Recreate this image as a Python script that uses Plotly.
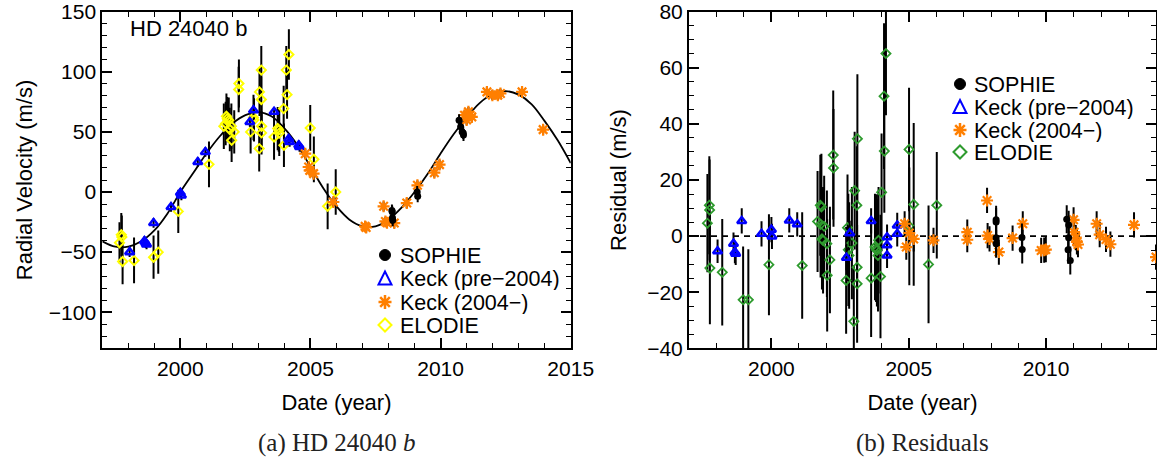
import plotly.graph_objects as go

# ---------------- data ----------------
# Keplerian fit curve (left panel)
fit_year = [1997.0, 1997.5, 1998.0, 1998.5, 1999.0, 1999.5, 2000.0, 2000.5, 2001.0, 2001.5,
            2002.0, 2002.5, 2003.0, 2003.5, 2004.0, 2004.5, 2005.0, 2005.5, 2006.0, 2006.5,
            2007.0, 2007.5, 2008.0, 2008.5, 2009.0, 2009.5, 2010.0, 2010.5, 2011.0, 2011.5,
            2012.0, 2012.5, 2013.0, 2013.5, 2014.0, 2014.5, 2015.0]
fit_rv = [-41, -45.5, -45.5, -41, -32, -18, 0, 16, 32, 46,
          57, 64, 66.5, 63, 53, 39, 21, 3, -12, -23,
          -28.5, -28.5, -23, -13, 0, 15, 32, 48, 62, 74,
          81.5, 84, 81, 73, 59, 43, 24]

# SOPHIE
sophie_year = [2008.13, 2008.14, 2008.15, 2008.16, 2009.10, 2009.12, 2010.71, 2010.77, 2010.83, 2010.87, 2010.88]
sophie_rv = [-15.3, -16.5, -21.5, -23.5, 0.0, -3.6, 59.7, 54.2, 50.0, 49.2, 47.5]
sophie_rv_err = [5, 5, 5, 5, 5, 5, 5, 5, 5, 5, 5]
sophie_res_year = [2008.18, 2008.18, 2008.18, 2008.18, 2009.12, 2009.13, 2010.75, 2010.82, 2010.82, 2010.80, 2010.88]
sophie_res = [5.8, 5.0, -0.6, -2.7, -0.5, -4.8, 6.0, 4.0, -0.6, -4.9, -8.7]
sophie_res_err = [5, 5, 5, 5, 5, 5, 5, 5, 5, 5, 5]

# Keck (pre-2004)
keck1_year = [1998.05, 1998.62, 1998.67, 1998.70, 1998.97, 1999.64, 2000.00, 2000.04, 2000.67, 2000.96,
              2002.67, 2002.81, 2003.60, 2004.16, 2004.20, 2004.55, 2004.58]
keck1_rv = [-50, -40.8, -42.5, -43.6, -25.8, -12.5, -0.6, -2.8, 25, 33.3,
            58.3, 68, 66.7, 44, 41.7, 38.9, 37.5]
keck1_rv_err = [4, 4, 4, 4, 4, 4, 4, 4, 4, 4, 4, 4, 4, 4, 4, 4, 4]
keck1_res_year = [1998.04, 1998.62, 1998.67, 1998.70, 1998.92, 1999.64, 2000.00, 2000.02, 2000.65, 2000.94,
                  2002.73, 2002.85, 2003.63, 2004.21, 2004.21, 2004.21, 2004.58, 2004.58]
keck1_res = [-5.4, -2.7, -5.7, -6.3, 5.4, 0.8, 2.3, -0.1, 5.6, 4.2,
             -7.7, 1.0, 5.4, -0.4, -3.3, -6.9, 3.8, 0.8]
keck1_res_err = [4.2, 4, 4, 4, 4.5, 4.5, 4.5, 4.5, 4.3, 4.3, 4.5, 4.5, 4.5, 4.5, 4.5, 4.5, 4.5, 4.5]

# Keck (2004-)
keck2_year = [2004.80, 2004.93, 2004.97, 2005.12, 2005.88, 2007.10, 2007.14, 2007.81, 2007.88, 2007.94,
              2008.22, 2008.70, 2009.11, 2009.76, 2009.96, 2010.92, 2011.00, 2011.07, 2011.12, 2011.20,
              2011.78, 2011.99, 2012.20, 2012.30, 2013.13, 2013.94]
keck2_rv = [31.9, 20.8, 18.0, 15.3, -8.3, -28.6, -29.5, -11.9, -24.5, -25.5,
            -25.8, -9.2, 5.6, 16.1, 22.8, 63.9, 60.0, 66.7, 64.0, 62.5,
            83.3, 80.6, 80.6, 82.0, 83.3, 51.9]
keck2_rv_err = [4] * 26
keck2_res_year = [2004.85, 2004.91, 2005.02, 2005.18, 2005.90, 2007.13, 2007.13, 2007.85, 2007.87, 2007.94,
                  2008.28, 2008.78, 2009.15, 2009.82, 2009.93, 2009.99, 2011.00, 2011.02, 2011.08, 2011.12,
                  2011.16, 2011.84, 2011.95, 2012.18, 2012.34, 2013.20, 2014.00]
keck2_res = [4.4, -3.9, 1.1, -1.0, -1.5, 1.4, -1.3, 12.7, 0.2, -1.0,
             -5.7, -0.7, 4.4, -5.1, -5.0, -4.8, 5.8, 1.4, -0.5, -2.1,
             -3.0, 4.4, 0.5, -1.2, -2.9, 4.0, -7.5]
keck2_res_err = [4.5] * 27

# ELODIE
elodie_year = [1997.66, 1997.73, 1997.75, 1997.78, 1998.22, 1998.97, 1999.15, 1999.92, 2001.10, 2001.67,
               2001.74, 2001.77, 2001.80, 2001.86, 2001.90, 2001.96, 2001.97, 2002.07, 2002.24, 2002.25,
               2002.70, 2002.81, 2002.83, 2003.03, 2003.04, 2003.11, 2003.11, 2003.12, 2003.12, 2003.60,
               2003.74, 2003.78, 2003.80, 2003.97, 2003.98, 2004.07, 2004.10, 2004.17, 2004.99, 2005.13,
               2005.66, 2005.97]
elodie_rv = [-42.2, -35.5, -37.5, -57.8, -56.9, -54.2, -50.0, -16.1, 23.0, 54.7,
             57.0, 63.0, 61.0, 59.7, 52.0, 54.7, 43.0, 50.0, 85.3, 90.3,
             50.0, 62.0, 60.0, 36.1, 83.3, 101.4, 77.0, 54.7, 49.2, 45.8,
             52.8, 51.5, 49.0, 69.4, 38.9, 101.4, 81.0, 114.4, 53.3, 27.2,
             -11.9, 0.0]
elodie_rv_err = [17, 18, 18, 19, 19, 18, 18, 18, 19, 19,
                 18, 19, 18, 19, 18, 19, 18, 18, 19, 20,
                 18, 19, 18, 19, 20, 20, 19, 19, 18, 19,
                 18, 18, 19, 19, 18, 20, 20, 21, 19, 19,
                 19, 19]
elodie_res_year = [1997.67, 1997.74, 1997.75, 1997.76, 1998.21, 1998.97, 1999.16, 1999.91, 2001.12, 2001.68,
                   2001.78, 2001.79, 2001.82, 2001.84, 2001.88, 2001.92, 2002.02, 2002.03, 2002.13, 2002.25,
                   2002.26, 2002.72, 2002.77, 2002.80, 2002.83, 2002.93, 2003.00, 2003.03, 2003.11, 2003.12,
                   2003.12, 2003.13, 2003.63, 2003.77, 2003.81, 2003.84, 2003.88, 2003.90, 2003.97, 2004.01,
                   2004.10, 2004.11, 2004.17, 2005.01, 2005.02, 2005.18, 2005.72, 2006.02]
elodie_res = [4.6, 11.0, 9.3, -11.4, -12.9, -22.7, -22.7, -10.2, -10.5, 5.2,
              11.0, 4.2, 10.4, -1.0, -1.5, 3.5, -2.7, -14.0, -8.5, 28.9,
              24.3, -15.8, 3.0, -4.9, -6.9, -2.5, -30.4, 16.2, 11.0, -11.1,
              -17.0, 34.7, -15.0, -3.9, -4.5, -5.1, -6.9, -1.5, -14.4, 15.6,
              49.9, 30.3, 65.1, 30.9, 3.5, 11.3, -10.1, 11.0]
elodie_res_err = [17.5, 17.5, 18, 20, 19, 19, 18, 18, 19, 18,
                  18, 19, 19, 18, 19, 18, 19, 20, 19, 23,
                  21, 19, 19, 20, 19, 20, 20, 21, 21, 20,
                  21, 23, 21, 19, 19, 20, 20, 19, 22, 21,
                  26, 22, 22, 22, 21, 29, 21, 19]

# legend labels
series_names = ["SOPHIE", "Keck (pre\u22122004)", "Keck (2004\u2212)", "ELODIE"]

# ---------------- styling ----------------
W, H = 1157, 459
SANS = "Liberation Sans, Arial, Helvetica, sans-serif"
SERIF = "Liberation Serif, Times New Roman, serif"
BLUE = "#0000FF"
ORANGE = "#FF7F00"
YELLOW = "#FFFF00"
GREEN = "#2E9B2E"

def px(x):
    return x / W

def py(y):
    return 1 - y / H

fig = go.Figure()

def err(arr):
    return dict(type="data", array=arr, color="black", thickness=2, width=0)

M_DIAM = dict(symbol="diamond-open", size=7)
M_TRI = dict(symbol="triangle-up-open", size=8)
M_AST = dict(symbol="asterisk-open", size=10)
M_CIR = dict(symbol="circle", size=7, color="black")

# ---- left panel ----
fig.add_trace(go.Scatter(x=fit_year, y=fit_rv, mode="lines", line=dict(color="black", width=1.8, shape="spline"),
                         xaxis="x", yaxis="y", showlegend=False, hoverinfo="skip"))
fig.add_trace(go.Scatter(x=elodie_year, y=elodie_rv, mode="markers", error_y=err(elodie_rv_err),
                         marker=dict(**M_DIAM, color=YELLOW, line=dict(width=2, color=YELLOW)),
                         xaxis="x", yaxis="y", showlegend=False, name="ELODIE"))
fig.add_trace(go.Scatter(x=keck1_year, y=keck1_rv, mode="markers", error_y=err(keck1_rv_err),
                         marker=dict(**M_TRI, color=BLUE, line=dict(width=2.5, color=BLUE)),
                         xaxis="x", yaxis="y", showlegend=False, name="Keck (pre-2004)"))
fig.add_trace(go.Scatter(x=keck2_year, y=keck2_rv, mode="markers", error_y=err(keck2_rv_err),
                         marker=dict(**M_AST, color=ORANGE, line=dict(width=2.2, color=ORANGE)),
                         xaxis="x", yaxis="y", showlegend=False, name="Keck (2004-)"))
fig.add_trace(go.Scatter(x=sophie_year, y=sophie_rv, mode="markers", error_y=err(sophie_rv_err),
                         marker=M_CIR, xaxis="x", yaxis="y", showlegend=False, name="SOPHIE"))

# ---- right panel ----
fig.add_trace(go.Scatter(x=elodie_res_year, y=elodie_res, mode="markers", error_y=err(elodie_res_err),
                         marker=dict(**M_DIAM, color=GREEN, line=dict(width=1.8, color=GREEN)),
                         xaxis="x2", yaxis="y2", showlegend=False, name="ELODIE"))
fig.add_trace(go.Scatter(x=keck1_res_year, y=keck1_res, mode="markers", error_y=err(keck1_res_err),
                         marker=dict(**M_TRI, color=BLUE, line=dict(width=2.5, color=BLUE)),
                         xaxis="x2", yaxis="y2", showlegend=False, name="Keck (pre-2004)"))
fig.add_trace(go.Scatter(x=keck2_res_year, y=keck2_res, mode="markers", error_y=err(keck2_res_err),
                         marker=dict(**M_AST, color=ORANGE, line=dict(width=2.2, color=ORANGE)),
                         xaxis="x2", yaxis="y2", showlegend=False, name="Keck (2004-)"))
fig.add_trace(go.Scatter(x=sophie_res_year, y=sophie_res, mode="markers", error_y=err(sophie_res_err),
                         marker=M_CIR, xaxis="x2", yaxis="y2", showlegend=False, name="SOPHIE"))

# ---------------- axes ----------------
def axis(domain, rng, dtick, mdtick, title, standoff, anchor, tick0=0):
    return dict(domain=domain, range=rng, anchor=anchor, automargin=False,
                showline=True, linewidth=2, linecolor="black",
                mirror="allticks", ticks="inside", ticklen=10, tickwidth=1.6, tickcolor="black",
                tickmode="linear", tick0=tick0, dtick=dtick, showgrid=False, zeroline=False,
                tickfont=dict(family=SANS, size=21, color="black"),
                minor=dict(ticks="inside", ticklen=5, tickwidth=1.4, tickcolor="black", dtick=mdtick,
                           tick0=tick0, showgrid=False),
                title=dict(text=title, font=dict(family=SANS, size=22, color="black"), standoff=standoff))

ydom = [py(348.3), py(11.7)]
fig.update_layout(
    width=W, height=H, autosize=False,
    margin=dict(l=0, r=0, t=0, b=0, pad=0, autoexpand=False),
    paper_bgcolor="white", plot_bgcolor="white",
    showlegend=False,
    xaxis=axis([px(102.3), px(570.7)], [1997, 2015], 5, 1, "Date (year)", 16, "y", tick0=2000),
    yaxis=axis(ydom, [-130, 150], 50, 10, "Radial Velocity (m/s)", 10, "x"),
    xaxis2=axis([px(689), px(1156)], [1997, 2014], 5, 1, "Date (year)", 16, "y2", tick0=2000),
    yaxis2=axis(ydom, [-40, 80], 20, 5, "Residual (m/s)", 14, "x2"),
)

# zero reference line in residual panel
fig.add_shape(type="line", xref="x2 domain", yref="y2", x0=0, x1=1, y0=0, y1=0,
              line=dict(color="black", width=1.8, dash="6px,5px"), layer="below")

# ---------------- text annotations ----------------
ann = []
ann.append(dict(text="HD 24040 b", x=px(128), y=py(28), xref="paper", yref="paper", xanchor="left",
                yanchor="middle", showarrow=False, font=dict(family=SANS, size=22, color="black")))
ann.append(dict(text="(a) HD 24040 <i>b</i>", x=px(337), y=py(443), xref="paper", yref="paper",
                xanchor="center", yanchor="middle", showarrow=False,
                font=dict(family=SERIF, size=25, color="#222222")))
ann.append(dict(text="(b) Residuals", x=px(922), y=py(443), xref="paper", yref="paper",
                xanchor="center", yanchor="middle", showarrow=False,
                font=dict(family=SERIF, size=25, color="#222222")))

# ---------------- manual legends ----------------
shapes = []

def legend_block(x_sym, x_txt, ys, diamond_color):
    colors = ["black", BLUE, ORANGE, diamond_color]
    for i, (name, yy) in enumerate(zip(series_names, ys)):
        ann.append(dict(text=name, x=px(x_txt), y=py(yy), xref="paper", yref="paper", xanchor="left",
                        yanchor="middle", showarrow=False, height=23, borderpad=0, valign="middle",
                        font=dict(family=SANS, size=21.5, color="black")))
        c = colors[i]
        r = 5.5
        if i == 0:
            shapes.append(dict(type="circle", xref="paper", yref="paper", x0=px(x_sym - r), x1=px(x_sym + r),
                               y0=py(yy + r), y1=py(yy - r), fillcolor="black", line=dict(color="black", width=1)))
        elif i == 1:
            path = "M {} {} L {} {} L {} {} Z".format(px(x_sym - 6.5), py(yy + 6), px(x_sym + 6.5), py(yy + 6),
                                                       px(x_sym), py(yy - 7))
            shapes.append(dict(type="path", xref="paper", yref="paper", path=path, line=dict(color=c, width=2)))
        elif i == 2:
            pts = []
            for dx, dy in [(0, 7), (6.5, 0), (4.8, 4.8), (4.8, -4.8)]:
                pts.append("M {} {} L {} {}".format(px(x_sym - dx), py(yy - dy), px(x_sym + dx), py(yy + dy)))
            shapes.append(dict(type="path", xref="paper", yref="paper", path=" ".join(pts),
                               line=dict(color=c, width=2.5)))
        else:
            path = "M {} {} L {} {} L {} {} L {} {} Z".format(px(x_sym - 6.5), py(yy), px(x_sym), py(yy - 6.5),
                                                               px(x_sym + 6.5), py(yy), px(x_sym), py(yy + 6.5))
            shapes.append(dict(type="path", xref="paper", yref="paper", path=path, line=dict(color=c, width=2)))

legend_block(385, 399, [255, 278.5, 302, 325], YELLOW)
legend_block(960, 973, [84, 107, 130, 152], GREEN)

fig.update_layout(annotations=ann)
for s in shapes:
    fig.add_shape(**s)

fig.write_html("out.html")
